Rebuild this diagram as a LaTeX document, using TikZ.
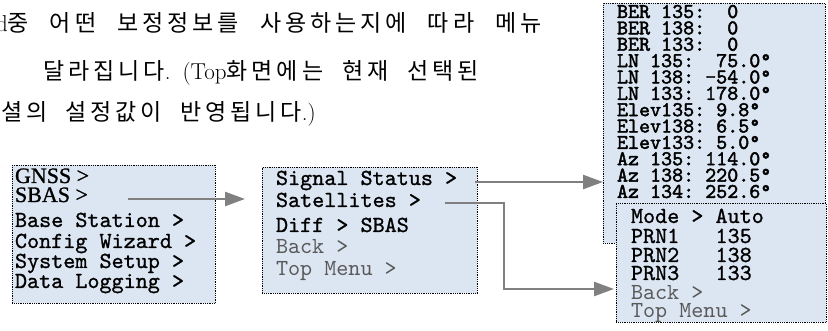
\documentclass[tikz,border=0pt]{standalone}
\usepackage{fontspec}
\usetikzlibrary{arrows.meta}
\newfontfamily\hangulfont{Noto Sans CJK KR}
\newfontfamily\lmmonoreg{lmmono10-regular}[Extension=.otf]
\newfontfamily\lmmonodark{lmmono10-regular}[Extension=.otf,FakeBold=1]
\newfontfamily\lmmonoheavy{lmmono10-regular}[Extension=.otf,FakeBold=2]
\newfontfamily\serifalt{Liberation Serif}[FakeBold=1]
% letter spacing between Hangul syllables
\XeTeXinterchartokenstate=1
\newcount\hgcnt
\hgcnt="AC00
\loop \XeTeXcharclass\hgcnt=7 \advance\hgcnt by 1 \ifnum\hgcnt<"D7A4 \repeat
\XeTeXinterchartoks 7 7 = {\kern4pt}
\definecolor{boxblue}{RGB}{220,230,242}
\definecolor{arrowgray}{RGB}{128,128,128}
\definecolor{txtgray}{RGB}{89,89,89}
\tikzset{
  menubox/.style={draw=black, fill=boxblue, line width=0.9pt,
    dash pattern=on 0.9pt off 0.9pt, anchor=north west, inner sep=0pt},
  link/.style={draw=arrowgray, line width=2.5pt, line join=miter,
    -{Triangle[length=20pt,width=14pt]}},
  txt/.style={anchor=base west, inner sep=0pt, outer sep=0pt},
  para/.style={txt, font=\fontsize{23}{23}\selectfont},
  darktxt/.style={txt, font=\lmmonodark\fontsize{23}{23}\selectfont},
  lighttxt/.style={txt, text=txtgray, font=\lmmonoreg\fontsize{23}{23}\selectfont},
  denstxt/.style={txt, font=\lmmonoheavy\fontsize{21}{21}\selectfont},
  propertxt/.style={txt, font=\serifalt\fontsize{22}{22}\selectfont},
}
\begin{document}
\begin{tikzpicture}[x=1pt,y=-1pt]
\useasboundingbox (0,0) rectangle (828,331);
\clip (0,0) rectangle (828,331);

% paragraph text
\node[para] (p1) at (-4,32) {\spaceskip=21pt d{\hangulfont 중 어떤 보정정보를 사용하는지에 따라 메뉴}};
\node[para] (p2) at (43,80) {\spaceskip=19pt{\hangulfont 달라집니다}.\hspace{12pt}(Top{\hangulfont 화면에는 현재 선택된}};
\node[para] (p3) at (-24,121) {\spaceskip=18pt{\hangulfont 니셜의 설정값이 반영됩니다}.)};

% box 1
\node[menubox, minimum width=203pt, minimum height=138pt] (box1) at (12,165) {};
\node[propertxt] (m1) at (15,183) {GNSS >};
\node[propertxt] (m2) at (15,202) {SBAS >};
\node[darktxt] (m3) at (15,227) {Base Station >};
\node[darktxt] (m4) at (15,248) {Config Wizard >};
\node[darktxt] (m5) at (15,268) {System Setup >};
\node[darktxt] (m6) at (15,288) {Data Logging >};

% box 2
\node[menubox, minimum width=215pt, minimum height=126pt] (box2) at (262,167) {};
\node[darktxt] (s1) at (276,185) {Signal Status >};
\node[darktxt] (s2) at (276,207) {Satellites >};
\node[darktxt] (s3) at (276,232) {Diff > SBAS};
\node[lighttxt] (s4) at (276,254) {Back >};
\node[lighttxt] (s5) at (276,276) {Top Menu >};

% box 3
\node[menubox, minimum width=222pt, minimum height=240pt] (box3) at (603,3) {};
\foreach \t [count=\i from 0] in {BER 135:\ \ 0,BER 138:\ \ 0,BER 133:\ \ 0,
  LN 135:\ \ 75.0°,LN 138:\ -54.0°,LN 133:\ 178.0°,
  Elev135:\ 9.8°,Elev138:\ 6.5°,Elev133:\ 5.0°,
  Az 135:\ 114.0°,Az 138:\ 220.5°,Az 134:\ 252.6°}
  \node[denstxt] (st\i) at (617,18+16.36*\i) {\t};

% box 4
\node[menubox, minimum width=210pt, minimum height=119pt] (box4) at (616,203) {};
\node[darktxt] (q1) at (631,223) {Mode > Auto};
\node[darktxt] (q2) at (631,243) {PRN1\ \ \ 135};
\node[darktxt] (q3) at (631,262) {PRN2\ \ \ 138};
\node[darktxt] (q4) at (631,280) {PRN3\ \ \ 133};
\node[lighttxt] (q5) at (631,300) {Back >};
\node[lighttxt] (q6) at (631,318) {Top Menu >};

% connectors
\coordinate (a1s) at (128,199);
\coordinate (a1e) at (245,199);
\coordinate (a2s) at (475,182);
\coordinate (a2e) at (603,182);
\coordinate (a3s) at (445,203);
\coordinate (a3m) at (504,289);
\coordinate (a3e) at (614,289);
\draw[link] (a1s) -- (a1e);
\draw[link] (a2s) -- (a2e);
\draw[link] (a3s) -| (a3m) -- (a3e);
\end{tikzpicture}
\end{document}
